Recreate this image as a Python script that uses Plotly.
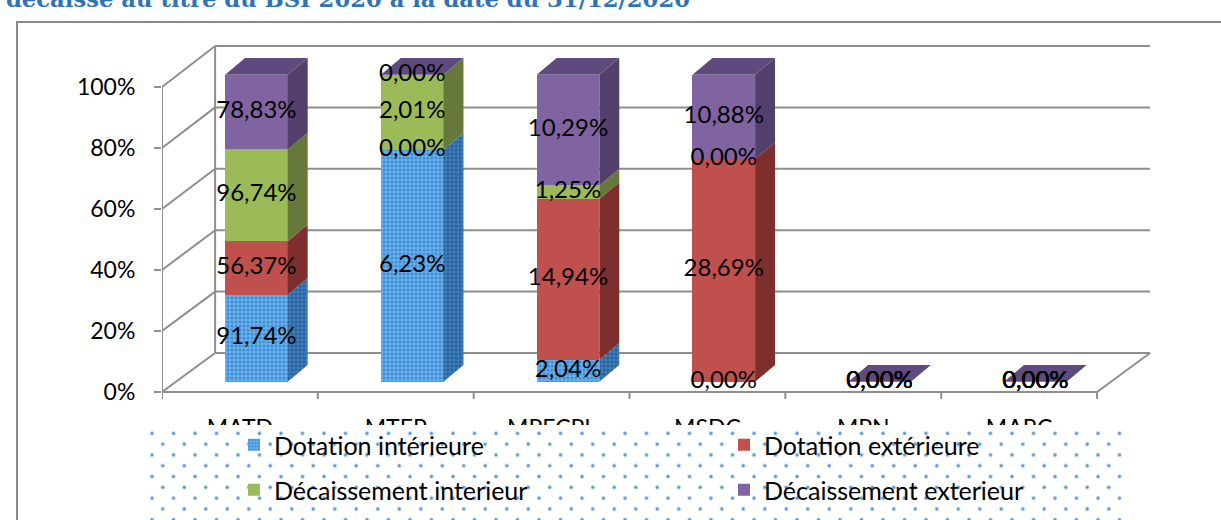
import base64
import plotly.graph_objects as go

# ---------------- data ----------------
categories = ["MATD", "MTEP", "MPECPL", "MSDC", "MPN", "MARC"]
series_names = ["Dotation intérieure", "Dotation extérieure",
                "Décaissement interieur", "Décaissement exterieur"]
dotation_interieure = [91.74, 6.23, 2.04, 0.00, 0.00, 0.00]
dotation_exterieure = [56.37, 0.00, 14.94, 28.69, 0.00, 0.00]
decaissement_interieur = [96.74, 2.01, 1.25, 0.00, 0.00, 0.00]
decaissement_exterieur = [78.83, 0.00, 10.29, 10.88, 0.00, 0.00]
y_ticks = [0, 20, 40, 60, 80, 100]
y_tick_labels = ["0%", "20%", "40%", "60%", "80%", "100%"]
title_text = "décaissé au titre du BSI 2020 à la date du 31/12/2020"

series_values = [dotation_interieure, dotation_exterieure,
                 decaissement_interieur, decaissement_exterieur]

# ---------------- style ----------------
front_colors = ["#6AB0EC", "#C0504D", "#9BBB59", "#8064A2"]
side_colors = ["#3D7DBC", "#7E2F2D", "#66793A", "#533F6C"]
top_color = "#5F4A7E"
grid_color = "#8E8E8E"
FONT = "Lato"

W, H = 1221, 520
PL, PR, PT, PB = 162, 1160, 40, 400          # plot area in pixels
X_RANGE = [-0.606, 5.800]
Y_RANGE = [-5.96, 111.30]
BAR_W = 0.402
SIDE_DX, SIDE_DY = 0.128, 5.44
FL_X, BL_X, FR_X, BR_X = -0.606, -0.265, 5.396, 5.736


def front_plane(p):
    return -3.355 + 0.9935 * p


def back_plane(p):
    return 9.35 + 1.0 * p


def px_x(px):
    return (px - PL) / (PR - PL)


def px_y(py):
    return (PB - py) / (PB - PT)


def fmt(v):
    return f"{v:.2f}".replace(".", ",") + "%"


# 100% stacked shares
n = len(categories)
totals = [sum(s[i] for s in series_values) for i in range(n)]
shares = [[(s[i] / totals[i] * 100 if totals[i] > 0 else 0.0) for i in range(n)]
          for s in series_values]
xpos = list(range(n))

fig = go.Figure()

# front faces (real bars)
for k, name in enumerate(series_names):
    marker = dict(color=front_colors[k], line=dict(width=0))
    if k == 0:
        marker["pattern"] = dict(shape=".", bgcolor="#6AB0EC", fgcolor="#3E8ED6",
                                 size=4, solidity=0.45, fillmode="replace")
    fig.add_trace(go.Bar(
        x=xpos, y=shares[k], width=BAR_W, name=name, marker=marker,
        legend="legend" if k < 2 else "legend2",
        hovertemplate=name + ": %{customdata}<extra></extra>",
        customdata=[fmt(v) for v in series_values[k]],
    ))

# side faces of each stacked segment
cum = [0.0] * n
bottoms = []
for k in range(len(series_names)):
    b = cum[:]
    bottoms.append(b)
    cum = [cum[i] + shares[k][i] for i in range(n)]

for k in range(len(series_names)):
    xs, ys = [], []
    for i in range(n):
        y0 = bottoms[k][i]
        y1 = y0 + shares[k][i]
        if shares[k][i] <= 0:
            continue
        xr = xpos[i] + BAR_W / 2
        xs += [xr, xr + SIDE_DX, xr + SIDE_DX, xr, xr, None]
        ys += [y0, y0 + SIDE_DY, y1 + SIDE_DY, y1, y0, None]
    if not xs:
        continue
    tr = dict(x=xs, y=ys, mode="lines", fill="toself", fillcolor=side_colors[k],
              line=dict(width=0), showlegend=False, hoverinfo="skip")
    if k == 0:
        tr["fillpattern"] = dict(shape=".", bgcolor="#3D7DBC", fgcolor="#2B6096",
                                 size=4, solidity=0.45, fillmode="replace")
    fig.add_trace(go.Scatter(**tr))

# top faces
xs, ys = [], []
for i in range(n):
    t = cum[i]
    xl = xpos[i] - BAR_W / 2
    xr = xpos[i] + BAR_W / 2
    xs += [xl, xl + SIDE_DX, xr + SIDE_DX, xr, xl, None]
    ys += [t, t + SIDE_DY, t + SIDE_DY, t, t, None]
fig.add_trace(go.Scatter(x=xs, y=ys, mode="lines", fill="toself", fillcolor=top_color,
                         line=dict(width=0), showlegend=False, hoverinfo="skip"))

# data labels
lx, ly, lt = [], [], []
for k in range(len(series_names)):
    for i in range(n):
        lx.append(xpos[i])
        ly.append(bottoms[k][i] + shares[k][i] / 2)
        lt.append(fmt(series_values[k][i]))
fig.add_trace(go.Scatter(x=lx, y=ly, text=lt, mode="text", showlegend=False,
                         hoverinfo="skip",
                         textfont=dict(family=FONT, size=24, color="black")))

# ---------------- 3D walls / grid ----------------
shapes = []
gl = dict(color=grid_color, width=2)
for p in y_ticks:
    shapes.append(dict(type="line", xref="x", yref="y", x0=BL_X, x1=BR_X,
                       y0=back_plane(p), y1=back_plane(p), line=gl, layer="below"))
    shapes.append(dict(type="line", xref="x", yref="y", x0=FL_X, x1=BL_X,
                       y0=front_plane(p), y1=back_plane(p), line=gl, layer="below"))
shapes.append(dict(type="line", xref="x", yref="y", x0=FL_X, x1=FL_X,
                   y0=front_plane(0), y1=front_plane(100), line=gl, layer="below"))
shapes.append(dict(type="line", xref="x", yref="y", x0=BL_X, x1=BL_X,
                   y0=back_plane(0), y1=back_plane(100), line=gl, layer="below"))
shapes.append(dict(type="line", xref="x", yref="y", x0=FL_X, x1=FR_X,
                   y0=front_plane(0), y1=front_plane(0), line=gl, layer="below"))
shapes.append(dict(type="line", xref="x", yref="y", x0=FR_X, x1=BR_X,
                   y0=front_plane(0), y1=back_plane(0), line=gl, layer="below"))
step = (FR_X - FL_X) / n
for k in range(n + 1):
    xx = FL_X + k * step
    shapes.append(dict(type="line", xref="x", yref="y", x0=xx, x1=xx,
                       y0=front_plane(0), y1=front_plane(0) - 2.3, line=gl, layer="below"))

# chart frame
shapes.append(dict(type="rect", xref="paper", yref="paper",
                   x0=px_x(17), x1=px_x(1240), y0=px_y(22), y1=px_y(540),
                   line=dict(color="#8A8A8A", width=2), layer="below"))

# dotted legend background (pattern image)
LGX0, LGY0, LGW, LGH = 146, 425, 980, 95
svg = (f"<svg xmlns='http://www.w3.org/2000/svg' width='{LGW}' height='{LGH}' "
       f"viewBox='0 0 {LGW} {LGH}' preserveAspectRatio='none'>"
       "<defs><pattern id='p' x='0' y='0' width='21.5' height='21.6' patternUnits='userSpaceOnUse'>"
       "<circle cx='6' cy='8.3' r='2.2' fill='#B9D6F0'/>"
       "<circle cx='6' cy='8.3' r='1.3' fill='#3B8BD4'/>"
       "<circle cx='16.75' cy='19.1' r='2.2' fill='#B9D6F0'/>"
       "<circle cx='16.75' cy='19.1' r='1.3' fill='#3B8BD4'/>"
       "<circle cx='16.75' cy='-2.5' r='2.2' fill='#B9D6F0'/>"
       "<circle cx='16.75' cy='-2.5' r='1.3' fill='#3B8BD4'/>"
       "</pattern></defs>"
       f"<rect width='{LGW}' height='{LGH}' fill='white'/>"
       f"<rect width='{LGW}' height='{LGH}' fill='url(#p)'/></svg>")
src = "data:image/svg+xml;base64," + base64.b64encode(svg.encode()).decode()

legend_common = dict(orientation="h", xanchor="left", yanchor="middle",
                     entrywidth=445, bgcolor="rgba(0,0,0,0)", traceorder="normal",
                     font=dict(family=FONT, size=25, color="black"))

fig.update_layout(
    width=W, height=H,
    margin=dict(l=PL, r=W - PR, t=PT, b=H - PB, autoexpand=False),
    paper_bgcolor="white", plot_bgcolor="rgba(0,0,0,0)",
    barmode="stack",
    font=dict(family=FONT, size=22, color="black"),
    xaxis=dict(range=X_RANGE, showgrid=False, zeroline=False, showline=False,
               tickmode="array",
               tickvals=[FL_X + (k + 0.5) * step for k in range(n)],
               ticktext=categories, ticks="", ticklabelstandoff=12,
               tickfont=dict(family=FONT, size=23, color="black"), fixedrange=True),
    yaxis=dict(range=Y_RANGE, showgrid=False, zeroline=False, showline=False,
               tickmode="array", tickvals=[front_plane(p) for p in y_ticks],
               ticktext=y_tick_labels, ticks="outside", ticklen=7, tickwidth=2,
               tickcolor=grid_color, ticklabelstandoff=14,
               tickfont=dict(family=FONT, size=23, color="black"), fixedrange=True),
    shapes=shapes,
    images=[dict(source=src, xref="paper", yref="paper",
                 x=px_x(LGX0), y=px_y(LGY0), sizex=LGW / (PR - PL), sizey=LGH / (PB - PT),
                 xanchor="left", yanchor="top", sizing="stretch", layer="above")],
    legend=dict(x=px_x(234), y=px_y(445), **legend_common),
    legend2=dict(x=px_x(234), y=px_y(490), **legend_common),
    annotations=[dict(text=title_text, xref="paper", yref="paper",
                      x=px_x(4), xanchor="left", y=px_y(-1), yanchor="middle",
                      showarrow=False,
                      font=dict(family="DejaVu Serif", size=22.7, color="#2E74B5",
                                weight="bold"))],
    showlegend=True,
)

fig.write_html("out.html",
               config={"displayModeBar": False},
               post_script="document.body.style.margin='0';"
                           "document.body.style.overflow='hidden';")
